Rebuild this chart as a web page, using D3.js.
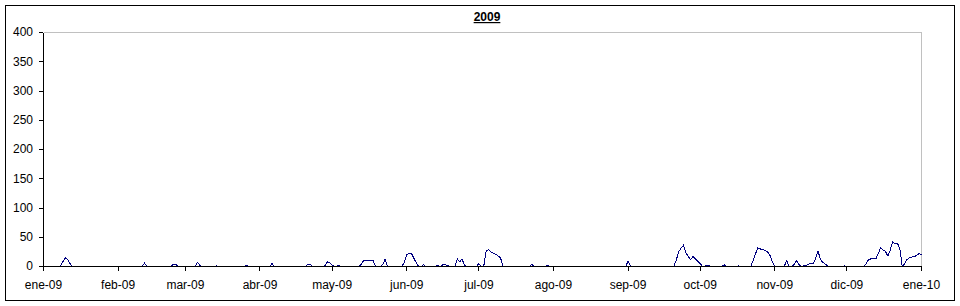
<!DOCTYPE html>
<html>
<head>
<meta charset="utf-8">
<script src="https://cdn.jsdelivr.net/npm/d3@7"></script>
<style>
    body { margin: 0; background: #fff; }
    svg text { font-family: Arial, "Liberation Sans", sans-serif; font-size: 12px; fill: #000; }
</style>
</head>
<body>
<div id="chart"></div>
<script>
// Daily values, one array per month (2009)
const ene = [0,0,0,0,0,0,0,1,8,15,12,5,0,0,0,0,0,0,0,0,0,0,0,0,0,0,0,0,0,0,0]
const feb = [0,0,0,0,0,0,0,0,0,0,0,6,0,0,0,0,0,0,0,0,0,0,0,4,4,0,0,0]
const mar = [0,0,0,0,0,7,2,0,0,0,0,0,0,1,0,0,0,0,0,0,0,0,0,0,0,1,1,0,0,0,0]
const abr = [0,0,0,0,0,5,0,0,0,0,0,0,0,0,0,0,0,0,0,0,4,3,0,0,0,0,0,1,8,7]
const may = [2,0,1,1,0,0,0,0,0,0,0,0,3,10,10,10,10,11,0,0,0,3,12,0,0,0,0,0,0,0,7]
const jun = [21,22,22,14,6,0,0,3,0,0,0,0,0,2,0,3,3,2,0,0,0,13,8,13,2,0,0,0,0,0]
const jul = [5,0,0,26,29,25,23,21,18,15,0,0,0,0,0,0,0,0,0,0,0,0,4,0,0,0,0,0,1,1,0]
const ago = [0,0,0,0,0,0,0,0,0,0,0,0,0,0,0,0,0,0,0,0,0,0,0,0,0,0,0,0,0,0,0]
const sep = [9,1,0,0,0,0,0,0,0,0,0,0,0,0,0,0,0,0,0,0,10,25,31,36,24,17,12,17,13,9]
const oct = [5,0,1,1,1,0,0,0,0,0,3,0,0,0,0,0,1,0,0,0,0,0,10,22,32,30,29,27,25,19,8]
const nov = [0,0,0,0,1,10,0,0,3,10,4,0,1,1,4,5,5,14,26,12,7,4,1,0,0,0,0,0,0,1]
const dic = [0,0,0,0,0,0,0,0,5,12,13,13,13,22,32,28,26,18,28,42,39,40,30,0,5,12,15,16,17,19,22]
const ene10 = [20]

const monthNames = ["ene", "feb", "mar", "abr", "may", "jun", "jul", "ago", "sep", "oct", "nov", "dic"]
const yTicks = [0, 50, 100, 150, 200, 250, 300, 350, 400]
const title = "2009"

const width = 960
const height = 306

// join the months into one daily series
const start = new Date(2009, 0, 1)
const data = [].concat(ene, feb, mar, abr, may, jun, jul, ago, sep, oct, nov, dic, ene10)
    .map(function (v, i) {
        return { date: d3.timeDay.offset(start, i), value: v }
    })

const svg = d3.select("#chart")
    .append("svg")
    .attr("width", width)
    .attr("height", height)

// outer frame
svg.append("rect")
    .attr("x", 5.5).attr("y", 5.5)
    .attr("width", 949).attr("height", 295)
    .attr("fill", "#fff")
    .attr("stroke", "#000")

const x = d3.scaleTime()
    .domain([start, new Date(2010, 0, 1)])
    .range([43, 921])

const y = d3.scaleLinear()
    .domain([0, 400])
    .range([266, 32])

// plot area border (top and right, grey)
svg.append("path")
    .attr("d", "M43.5,32.5H921.5V266.5")
    .attr("fill", "none")
    .attr("stroke", "#c0c0c0")
    .attr("shape-rendering", "crispEdges")

// title
svg.append("text")
    .attr("x", 487)
    .attr("y", 21)
    .attr("text-anchor", "middle")
    .style("font-weight", "bold")
    .style("text-decoration", "underline")
    .text(title)

// the series (aliased like the original); half-pixel shift so zero sits under the axis
const line = d3.line()
    .x(function (d) { return x(d.date) })
    .y(function (d) { return y(d.value) })

svg.append("path")
    .datum(data)
    .attr("transform", "translate(0.5,0.5)")
    .attr("d", line)
    .attr("fill", "none")
    .attr("stroke", "#000080")
    .attr("stroke-width", 1)
    .attr("shape-rendering", "crispEdges")

// axes
const yAxis = svg.append("g")
    .attr("transform", "translate(43,0)")
    .call(d3.axisLeft(y).tickValues(yTicks).tickSize(4).tickSizeOuter(0).tickPadding(6))
yAxis.selectAll("path, line").attr("stroke", "#000").attr("shape-rendering", "crispEdges")
yAxis.selectAll("text").style("font-size", "12px").style("font-family", "Arial, 'Liberation Sans', sans-serif")

const xAxis = svg.append("g")
    .attr("transform", "translate(0,266)")
    .call(d3.axisBottom(x)
        .ticks(d3.timeMonth.every(1))
        .tickSize(5)
        .tickSizeOuter(0)
        .tickPadding(9)
        .tickFormat(function (d) { return monthNames[d.getMonth()] + "-" + d3.timeFormat("%y")(d) }))
xAxis.selectAll("path, line").attr("stroke", "#000").attr("shape-rendering", "crispEdges")
xAxis.selectAll("text").style("font-size", "12px").style("font-family", "Arial, 'Liberation Sans', sans-serif")
</script>
</body>
</html>
